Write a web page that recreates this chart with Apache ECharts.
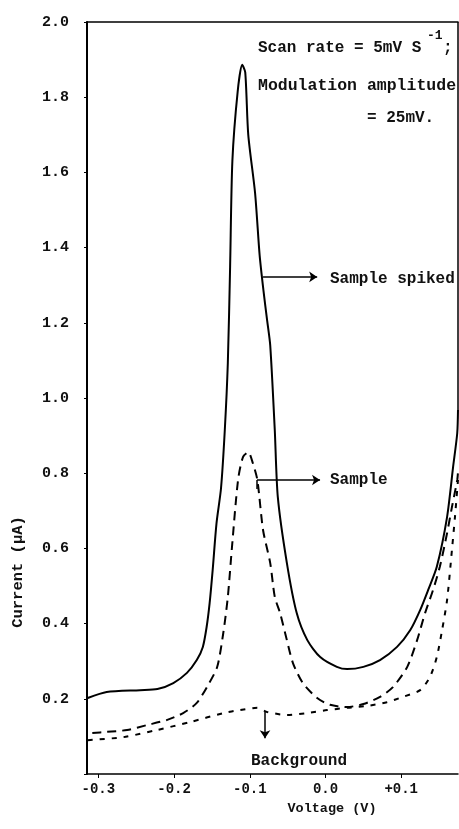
<!DOCTYPE html>
<html>
<head>
<meta charset="utf-8">
<title>Differential pulse voltammogram</title>
<style>
  html, body { margin: 0; padding: 0; background: #fff; }
  #chart-container { width: 459px; height: 829px; }
</style>
<script src="https://cdn.jsdelivr.net/npm/echarts@6.0.0/dist/echarts.min.js"></script>
</head>
<body>
<div id="chart-container"></div>
<script>
// tick labels
const voltageTicks = [-0.3, -0.2, -0.1, 0.0, 0.1];

// [voltage (V), current (µA)]
const spiked = [
    [-0.314, 0.202], [-0.289, 0.218], [-0.245, 0.223], [-0.222, 0.226], [-0.201, 0.242],
    [-0.183, 0.269], [-0.170, 0.303], [-0.162, 0.338], [-0.157, 0.391], [-0.153, 0.455],
    [-0.149, 0.543], [-0.144, 0.666], [-0.138, 0.760], [-0.133, 0.915], [-0.129, 1.093],
    [-0.126, 1.348], [-0.123, 1.630], [-0.116, 1.815], [-0.110, 1.886], [-0.106, 1.866],
    [-0.102, 1.700], [-0.093, 1.545], [-0.087, 1.380], [-0.082, 1.287], [-0.077, 1.205],
    [-0.073, 1.140], [-0.067, 0.915], [-0.063, 0.737], [-0.051, 0.561], [-0.038, 0.428],
    [-0.024, 0.356], [-0.007, 0.311], [0.015, 0.285], [0.0285, 0.279], [0.050, 0.285],
    [0.072, 0.303], [0.0945, 0.338], [0.112, 0.383], [0.125, 0.436], [0.1355, 0.489],
    [0.147, 0.551], [0.1606, 0.684], [0.1685, 0.816], [0.174, 0.907], [0.175, 0.968]
];

const sample = [
    [-0.308, 0.109], [-0.289, 0.112], [-0.262, 0.117], [-0.236, 0.130], [-0.209, 0.144],
    [-0.188, 0.162], [-0.170, 0.189], [-0.155, 0.237], [-0.143, 0.285], [-0.135, 0.375],
    [-0.129, 0.471], [-0.1235, 0.604], [-0.1155, 0.782], [-0.109, 0.843], [-0.102, 0.856],
    [-0.096, 0.827], [-0.090, 0.782], [-0.0825, 0.649], [-0.073, 0.561], [-0.067, 0.471],
    [-0.060, 0.428], [-0.051, 0.356], [-0.043, 0.295], [-0.030, 0.242], [-0.011, 0.202],
    [0.006, 0.184], [0.0285, 0.178], [0.050, 0.186], [0.072, 0.205], [0.089, 0.231],
    [0.108, 0.285], [0.121, 0.356], [0.1315, 0.428], [0.142, 0.489], [0.151, 0.551],
    [0.1606, 0.641], [0.167, 0.710], [0.174, 0.782], [0.175, 0.803]
];

const background = [
    [-0.314, 0.090], [-0.267, 0.098], [-0.2225, 0.117], [-0.179, 0.138], [-0.135, 0.162],
    [-0.113, 0.170], [-0.090, 0.176], [-0.077, 0.165], [-0.051, 0.157], [-0.024, 0.162],
    [0.002, 0.170], [0.0285, 0.176], [0.055, 0.181], [0.081, 0.191], [0.102, 0.205],
    [0.125, 0.223], [0.138, 0.258], [0.147, 0.311], [0.154, 0.383], [0.1606, 0.463],
    [0.167, 0.596], [0.171, 0.684], [0.175, 0.782]
];

// pointer arrows, [from, to]
const spikedArrow = [[-0.0825, 1.322], [-0.011, 1.322]];
const sampleArrow = [[-0.0904, 0.782], [-0.0072, 0.782]];
const sampleHook = [[-0.0904, 0.782], [-0.0904, 0.758]];
const backgroundArrow = [[-0.0799, 0.165], [-0.0799, 0.095]];

const mono = '"Liberation Mono", "DejaVu Sans Mono", monospace';

let dom = document.getElementById("chart-container");
let myChart = echarts.init(dom, null, {
    renderer: "canvas",
    useDirtyRect: false,
});
let option;

function arrowLine(pts, head) {
    return [
        { coord: pts[0], symbol: "none" },
        { coord: pts[1], symbol: head ? "arrow" : "none" },
    ];
}

function note(text, x, y, size, align, rotation) {
    return {
        type: "text",
        x: x,
        y: y,
        rotation: rotation || 0,
        silent: true,
        style: {
            text: text,
            font: "bold " + size + "px " + mono,
            fill: "#111",
            align: align || "left",
            textAlign: align || "left",
            verticalAlign: "middle",
            textVerticalAlign: "middle",
        },
    };
}

option = {
    backgroundColor: "#fff",
    animation: false,
    grid: {
        left: 87,
        right: 1,
        top: 22,
        bottom: 55,
        containLabel: false,
        outerBoundsMode: "none",
    },
    xAxis: [{
        type: "value",
        min: -0.315,
        max: 0.175,
        axisLine: { show: true, onZero: false, lineStyle: { color: "#000", width: 1.5 } },
        axisTick: { show: true, length: 4, customValues: voltageTicks, lineStyle: { color: "#000" } },
        axisLabel: {
            customValues: voltageTicks,
            margin: 8,
            color: "#111",
            fontFamily: mono,
            fontWeight: "bold",
            fontSize: 14,
            formatter: function (v) {
                return v > 0.001 ? "+" + v.toFixed(1) : v.toFixed(1);
            },
        },
        splitLine: { show: false },
    }, {
        type: "value",
        position: "top",
        min: -0.315,
        max: 0.175,
        axisLine: { show: true, onZero: false, lineStyle: { color: "#000", width: 1.5 } },
        axisTick: { show: false },
        axisLabel: { show: false },
        splitLine: { show: false },
    }],
    yAxis: [{
        type: "value",
        min: 0,
        max: 2.0,
        interval: 0.2,
        axisLine: { show: true, onZero: false, lineStyle: { color: "#000", width: 2 } },
        axisTick: { show: true, length: 3, lineStyle: { color: "#000" } },
        axisLabel: {
            margin: 18,
            color: "#111",
            fontFamily: mono,
            fontWeight: "bold",
            fontSize: 15,
            formatter: function (v) {
                return v === 0 ? "" : v.toFixed(1);
            },
        },
        splitLine: { show: false },
    }],
    series: [{
        name: "Sample spiked",
        type: "line",
        data: spiked,
        showSymbol: false,
        smooth: 0.25,
        emphasis: { disabled: true },
        lineStyle: { color: "#000", width: 2 },
        markLine: {
            silent: true,
            symbol: ["none", "arrow"],
            symbolSize: 8,
            label: { show: false },
            lineStyle: { color: "#000", type: "solid", width: 1.5 },
            data: [
                arrowLine(spikedArrow, true),
                arrowLine(sampleArrow, true),
                arrowLine(sampleHook, false),
                arrowLine(backgroundArrow, true),
            ],
        },
    }, {
        name: "Sample",
        type: "line",
        data: sample,
        showSymbol: false,
        smooth: 0.25,
        emphasis: { disabled: true },
        lineStyle: { color: "#000", width: 2, type: [9, 6] },
    }, {
        name: "Background",
        type: "line",
        data: background,
        showSymbol: false,
        smooth: 0.25,
        emphasis: { disabled: true },
        lineStyle: { color: "#000", width: 2, type: [5, 7] },
    }],
    graphic: [
        // right frame only runs down to where the solid curve leaves the plot
        {
            type: "line",
            silent: true,
            shape: { x1: 458, y1: 22, x2: 458, y2: 410 },
            style: { stroke: "#000", lineWidth: 1.5 },
        },
        note("Scan rate = 5mV S", 258, 48, 16),
        note("-1", 427, 36, 13),
        note(";", 443, 48, 16),
        note("Modulation amplitude", 258, 86, 16.5),
        note("= 25mV.", 367, 118, 16),
        note("Sample spiked", 330, 279, 16),
        note("Sample", 330, 480, 16),
        note("Background", 299, 761, 16, "center"),
        note("Voltage (V)", 332, 809, 13.5, "center"),
        note("Current (μA)", 18, 572, 15.5, "center", Math.PI / 2),
    ],
};

if (option && typeof option === "object") {
    myChart.setOption(option);
}

window.addEventListener("resize", myChart.resize);
</script>
</body>
</html>
